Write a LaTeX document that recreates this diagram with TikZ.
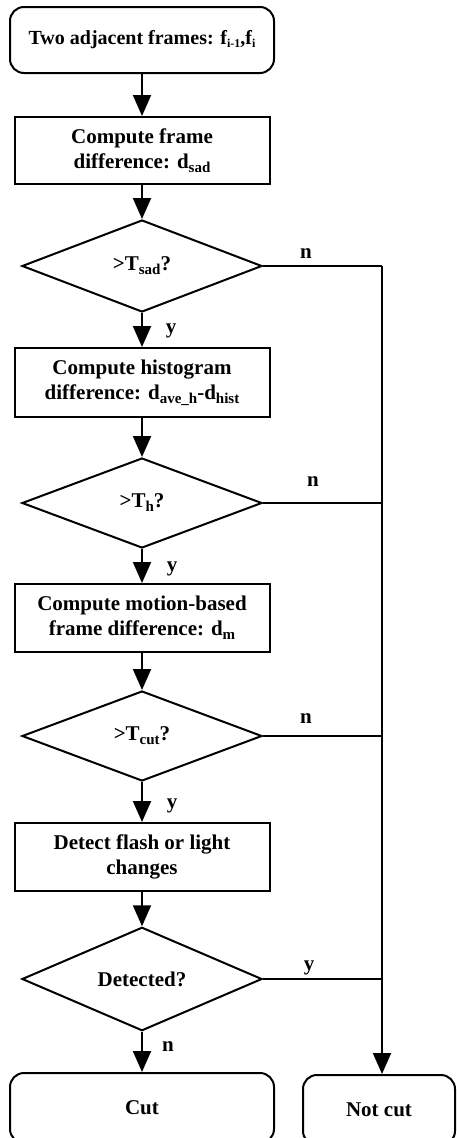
\documentclass[tikz,border=0pt]{standalone}
\usepackage{fontspec}
\setmainfont{Liberation Serif}
\usetikzlibrary{shapes.geometric,arrows.meta}
\newcommand{\lsub}[1]{\raisebox{-4pt}{\fontsize{15}{15}\selectfont #1}}
\newcommand{\ssub}[1]{\raisebox{-3pt}{\fontsize{12}{12}\selectfont #1}}
\begin{document}
\begin{tikzpicture}[x=1pt,y=-1pt,
  font=\fontsize{21}{25}\selectfont\bfseries,
  box/.style={draw, line width=2pt, align=center, inner sep=0pt, minimum width=255pt},
  rbox/.style={box, rounded corners=14pt},
  dec/.style={draw, diamond, line width=2pt, align=center, inner sep=0pt, minimum width=240pt},
  arr/.style={line width=2pt, -{Triangle[length=21pt,width=18pt]}},
  hline/.style={line width=1.4pt},
  vline/.style={line width=1.8pt},
  lbl/.style={inner sep=0pt}]
\useasboundingbox (0,0) rectangle (456,1138);
\clip (0,0) rectangle (456,1138);

\node[rbox, minimum width=264pt, minimum height=66pt, font=\fontsize{20}{24}\selectfont\bfseries] (s) at (142,40) {Two adjacent frames: f\ssub{i-1},f\ssub{i}};
\node[box, minimum height=67pt] (b1) at (142,150.5) {Compute frame\\difference: d\lsub{sad}};
\node[dec, minimum height=92pt] (d1) at (142,266) {>T\lsub{sad}?};
\node[box, minimum height=69pt] (b2) at (142,382.5) {Compute histogram\\difference: d\lsub{ave\_h}-d\lsub{hist}};
\node[dec, minimum height=90pt] (d2) at (142,503) {>T\lsub{h}?};
\node[box, minimum height=68pt] (b3) at (142,618) {Compute motion-based\\frame difference: d\lsub{m}};
\node[dec, minimum height=90pt] (d3) at (142,736) {>T\lsub{cut}?};
\node[box, minimum height=68pt] (b4) at (142,857) {Detect flash or light\\changes};
\node[dec, minimum height=92pt] (d4) at (142,979) {Detected?};
\node[rbox, minimum width=264pt, minimum height=70pt] (cut) at (142,1108) {Cut};
\node[rbox, minimum width=152pt, minimum height=70pt] (nc) at (379,1110) {Not cut};

\coordinate (j1) at (382,266);
\coordinate (j2) at (382,503);
\coordinate (j3) at (382,736);
\coordinate (j4) at (382,979);

\draw[arr] (s) -- (b1);
\draw[arr] (b1) -- (d1);
\draw[arr] (d1) -- (b2);
\draw[arr] (b2) -- (d2);
\draw[arr] (d2) -- (b3);
\draw[arr] (b3) -- (d3);
\draw[arr] (d3) -- (b4);
\draw[arr] (b4) -- (d4);
\draw[arr] (d4) -- (cut);

\draw[hline] (d1.east) -- (j1);
\draw[hline] (d2.east) -- (j2);
\draw[hline] (d3.east) -- (j3);
\draw[hline] (d4.east) -- (j4);
\draw[vline] (j1) -- (j4);
\draw[arr] (j4) -- (j4 |- nc.north);

\node[lbl] (n1) at (306,254) {n};
\node[lbl] (y1) at (171,331) {y};
\node[lbl] (n2) at (313,482) {n};
\node[lbl] (y2) at (172,569) {y};
\node[lbl] (n3) at (306,719) {n};
\node[lbl] (y3) at (172,806) {y};
\node[lbl] (y4) at (309,968) {y};
\node[lbl] (n4) at (168,1047) {n};
\end{tikzpicture}
\end{document}
